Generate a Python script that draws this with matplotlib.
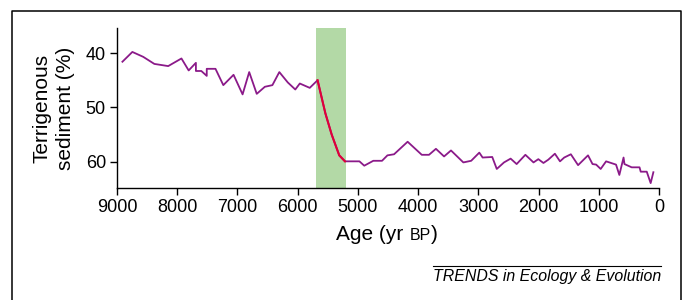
import matplotlib
matplotlib.use("Agg")
import matplotlib.pyplot as plt
from matplotlib.offsetbox import TextArea, HPacker, AnchoredOffsetbox
from matplotlib.lines import Line2D

plt.rcParams['font.family'] = ['Liberation Sans', 'DejaVu Sans']

# age (yr BP) and terrigenous sediment (%)
ages = [8910, 8745, 8565, 8380, 8150, 7930, 7810, 7690, 7690, 7600, 7510, 7510,
        7365, 7235, 7065, 6915, 6805, 6680, 6545, 6420, 6305, 6165, 6040, 5965,
        5800, 5670, 5540, 5435, 5310, 5215, 4975, 4895, 4745, 4600, 4510, 4400,
        4175, 3940, 3820, 3705, 3570, 3455, 3250, 3120, 2985, 2930, 2770, 2695,
        2575, 2465, 2365, 2220, 2085, 2005, 1920, 1840, 1730, 1645, 1575, 1465,
        1345, 1180, 1105, 1045, 970, 880, 715, 660, 590, 575, 455, 325, 305,
        205, 140, 95]
sediment = [41.6, 39.8, 40.7, 42.0, 42.4, 41.0, 43.2, 41.8, 43.3, 43.3, 44.2, 42.9,
            42.9, 45.9, 44.0, 47.6, 43.5, 47.5, 46.2, 45.9, 43.5, 45.4, 46.7, 45.6,
            46.4, 45.0, 51.1, 55.0, 58.8, 59.9, 59.9, 60.7, 59.8, 59.8, 58.8, 58.6,
            56.3, 58.7, 58.7, 57.6, 59.0, 57.9, 60.1, 59.8, 58.3, 59.2, 59.1, 61.3,
            60.1, 59.4, 60.4, 58.7, 60.1, 59.5, 60.2, 59.6, 58.5, 59.9, 59.2, 58.6,
            60.6, 58.8, 60.4, 60.5, 61.3, 59.9, 60.5, 62.4, 59.2, 60.4, 61.0, 61.0,
            61.8, 61.8, 63.9, 61.9]

# abrupt transition (highlighted)
band = (5700, 5200)
drop_start, drop_end = 25, 29  # indices of the red segment

fig = plt.figure(figsize=(6.83, 3.0), dpi=100)
ax = fig.add_axes([0.1713, 0.3733, 0.7937, 0.5334])

ax.axvspan(band[0], band[1], color='#b3d9a6', lw=0, zorder=1)
ax.plot(ages, sediment, color='#8b1a89', lw=1.3, zorder=2)
ax.plot(ages[drop_start:drop_end + 1], sediment[drop_start:drop_end + 1],
        color='#e0003a', lw=1.5, zorder=3)

ax.set_xlim(9000, 0)
ax.set_ylim(64.8, 35.4)
ax.set_xticks(range(9000, -1, -1000))
ax.set_yticks([40, 50, 60])
ax.tick_params(labelsize=13, length=5, width=1, pad=3)
for s in ['top', 'right']:
    ax.spines[s].set_visible(False)
for s in ['left', 'bottom']:
    ax.spines[s].set_linewidth(1)

ax.set_ylabel('Terrigenous\nsediment (%)', fontsize=15, labelpad=8,
              linespacing=1.28)

# x label with small-caps BP
parts = [TextArea('Age (yr ', textprops=dict(size=15)),
         TextArea('BP', textprops=dict(size=11.5)),
         TextArea(')', textprops=dict(size=15))]
box = HPacker(children=parts, align='baseline', pad=0, sep=0)
anch = AnchoredOffsetbox(loc='center', child=box, frameon=False,
                         bbox_to_anchor=(0.5665, 1 - 234 / 300),
                         bbox_transform=fig.transFigure, borderpad=0, pad=0)
fig.add_artist(anch)

# journal credit
fig.text(661 / 683, 1 - 277 / 300, 'TRENDS in Ecology & Evolution',
         style='italic', fontsize=11.4, ha='right', va='center')
fig.add_artist(Line2D([433 / 683, 661 / 683], [1 - 266 / 300, 1 - 266 / 300],
                      transform=fig.transFigure, color='black', lw=0.8))

# frame around the figure (open at the bottom)
fx0, fx1, fy1 = 12 / 683, 681 / 683, 1 - 11 / 300
fig.add_artist(Line2D([fx0, fx0, fx1, fx1], [-0.01, fy1, fy1, -0.01],
                      transform=fig.transFigure, color='black', lw=1.1))

fig.savefig('out.png', dpi=100)
